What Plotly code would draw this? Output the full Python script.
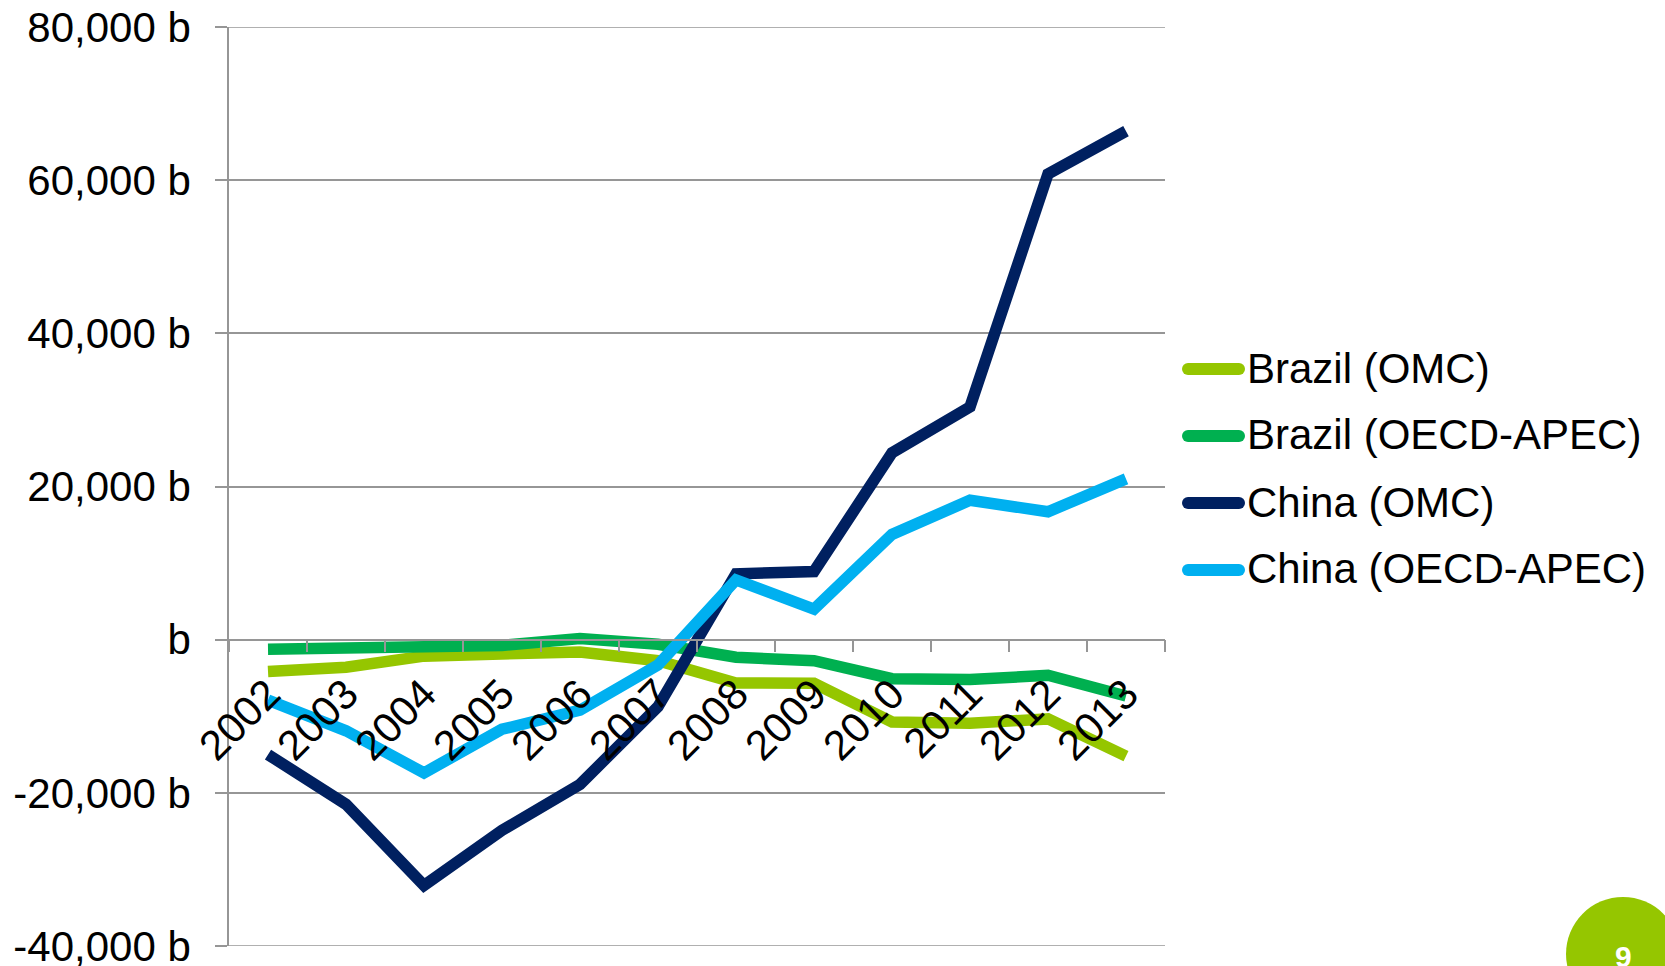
import plotly.graph_objects as go

years = ["2002", "2003", "2004", "2005", "2006", "2007", "2008", "2009", "2010", "2011", "2012", "2013"]
series_names = ["Brazil (OMC)", "Brazil (OECD-APEC)", "China (OMC)", "China (OECD-APEC)"]
brazil_omc = [-4150, -3600, -2150, -2050, -1600, -2750, -5650, -5700, -10750, -10900, -10350, -15200]
brazil_oecd = [-1250, -1150, -850, -750, 150, -600, -2300, -2750, -5100, -5200, -4650, -7350]
china_omc = [-15000, -21500, -32100, -24900, -18900, -8750, 8600, 8900, 24400, 30400, 60800, 66400]
china_oecd = [-7900, -11900, -17400, -11700, -9200, -3300, 7800, 4000, 13750, 18200, 16700, 21000]
colors = ["#95C600", "#00B050", "#002060", "#00B0F0"]
y_tickvals = [-40000, -20000, 0, 20000, 40000, 60000, 80000]
y_ticktext = ["-40,000 b", "-20,000 b", "b", "20,000 b", "40,000 b", "60,000 b", "80,000 b"]
page_label = "9"

W, H = 1665, 966
L, R, T, B = 229, 1165, 27, 946
FONT = "Liberation Sans, Arial, sans-serif"
GRID = "#969696"

def px(xp):
    return (xp - L) / (R - L)

def py(yp):
    return (B - yp) / (B - T)

fig = go.Figure()
for name, vals, col in zip(series_names, [brazil_omc, brazil_oecd, china_omc, china_oecd], colors):
    fig.add_trace(go.Scatter(x=years, y=vals, mode="lines", name=name,
                             line=dict(color=col, width=11.5), showlegend=False))

shapes = []
annotations = []
# edge gridlines (plotly omits them at range ends)
for gv in (y_tickvals[0], y_tickvals[-1]):
    shapes.append(dict(type="line", xref="paper", yref="y", x0=0, x1=1, y0=gv, y1=gv,
                       line=dict(color=GRID, width=1.5), layer="below"))

# custom legend
leg_y = [369, 436, 503, 570]
for name, col, yy in zip(series_names, colors, leg_y):
    shapes.append(dict(type="line", xref="paper", yref="paper",
                       x0=px(1188), x1=px(1239), y0=py(yy), y1=py(yy),
                       line=dict(color=col, width=12)))
    for cx in (1188, 1239):
        shapes.append(dict(type="circle", xref="paper", yref="paper",
                           x0=px(cx - 6), x1=px(cx + 6), y0=py(yy + 6), y1=py(yy - 6),
                           fillcolor=col, line=dict(width=0)))
    annotations.append(dict(text=name, xref="paper", yref="paper", x=px(1245), y=py(yy - 1),
                            xanchor="left", yanchor="middle", showarrow=False,
                            font=dict(family=FONT, size=42, color="black")))

# page circle
shapes.append(dict(type="circle", xref="paper", yref="paper",
                   x0=px(1566), x1=px(1680), y0=py(1011), y1=py(897),
                   fillcolor="#95C600", line=dict(width=0)))
annotations.append(dict(text="<b>" + page_label + "</b>", xref="paper", yref="paper",
                        x=px(1623), y=py(956), xanchor="center", yanchor="middle",
                        showarrow=False, font=dict(family=FONT, size=30, color="white")))

fig.update_layout(
    width=W, height=H,
    margin=dict(l=L, r=W - R, t=T, b=H - B, pad=0, autoexpand=False),
    paper_bgcolor="white", plot_bgcolor="white",
    shapes=shapes, annotations=annotations,
    xaxis=dict(type="category", range=[-0.5, 11.5], tickson="boundaries",
               anchor="free", position=40000 / 120000, automargin=False,
               showline=True, linecolor=GRID, linewidth=1.5,
               ticks="outside", ticklen=12, tickcolor=GRID, tickwidth=1.5,
               showgrid=False, tickangle=-45, ticklabelstandoff=12,
               tickfont=dict(family=FONT, size=42, color="black")),
    yaxis=dict(range=[-40000, 80000], tickvals=y_tickvals, ticktext=y_ticktext,
               automargin=False, ticklabeloverflow="allow",
               showline=True, linecolor=GRID, linewidth=1.5,
               ticks="outside", ticklen=12, tickcolor=GRID, tickwidth=1.5,
               showgrid=True, gridcolor=GRID, gridwidth=1.5, zeroline=False,
               tickfont=dict(family=FONT, size=42, color="black"),
               ticklabelstandoff=16),
)

fig.write_html("out.html")
